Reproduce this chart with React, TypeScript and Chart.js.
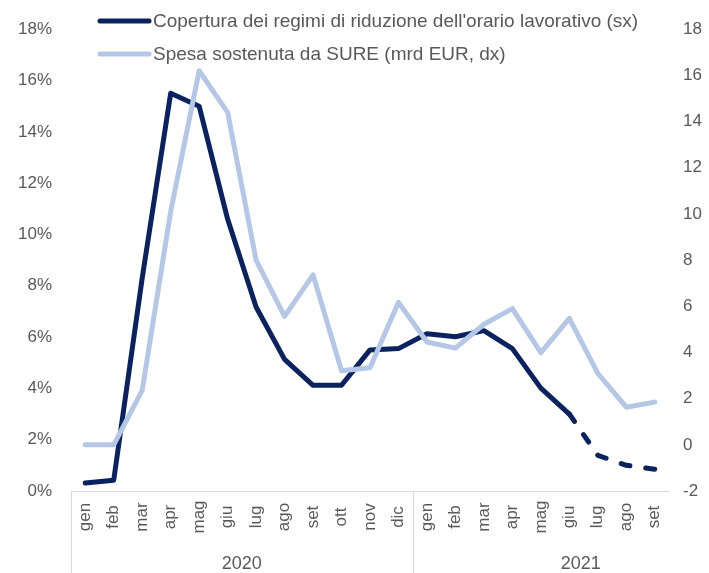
import React, { useEffect, useRef } from "react";
import { Chart, registerables } from "chart.js";

Chart.register(...registerables);

const months2020 = ["gen", "feb", "mar", "apr", "mag", "giu", "lug", "ago", "set", "ott", "nov", "dic"];
const months2021 = ["gen", "feb", "mar", "apr", "mag", "giu", "lug", "ago", "set"];
const categories = [...months2020, ...months2021];
const years = ["2020", "2021"];

const coverageLabel = "Copertura dei regimi di riduzione dell'orario lavorativo (sx)";
const sureLabel = "Spesa sostenuta da SURE (mrd EUR, dx)";

// % of workers covered (left axis)
const coverage = [
  0.31, 0.42, 8.3, 15.5, 15.0, 10.6, 7.17, 5.13, 4.12, 4.12, 5.5, 5.55,
  6.13, 6.01, 6.25, 5.55, 4.01, 3.0, 1.39, 1.0, 0.85,
];
// SURE spending, bn EUR (right axis)
const sureSpending = [
  0, 0, 2.36, 10.1, 16.2, 14.4, 8.0, 5.56, 7.36, 3.21, 3.34, 6.17,
  4.45, 4.19, 5.22, 5.9, 3.99, 5.48, 3.09, 1.63, 1.85,
];
const dashFromIndex = 17;

const leftMin = 0, leftMax = 18, leftStep = 2;
const rightMin = -2, rightMax = 18, rightStep = 2;

const DARK = "#0a2260";
const LIGHT = "#b4c7e7";
const TEXT = "#595959";
const AXIS = "#d9d9d9";
const FONT = "'Liberation Sans', Arial, sans-serif";

export default function App() {
  const ref = useRef<HTMLCanvasElement>(null);

  useEffect(() => {
    const canvas = ref.current!;
    const decorations = {
      id: "decorations",
      afterDraw(chart: any) {
        const ctx = chart.ctx;
        const area = chart.chartArea;
        const xs = chart.scales.x;
        ctx.save();
        // axis lines
        ctx.strokeStyle = AXIS;
        ctx.lineWidth = 1;
        const sepX = (xs.getPixelForValue(11) + xs.getPixelForValue(12)) / 2;
        ctx.beginPath();
        ctx.moveTo(area.left, area.bottom + 0.5);
        ctx.lineTo(area.right, area.bottom + 0.5);
        ctx.moveTo(area.left + 0.5, area.bottom);
        ctx.lineTo(area.left + 0.5, chart.height);
        ctx.moveTo(Math.round(sepX) + 0.5, area.bottom);
        ctx.lineTo(Math.round(sepX) + 0.5, chart.height);
        ctx.stroke();
        // month labels, rotated and centred in their band
        ctx.fillStyle = TEXT;
        ctx.font = `17px ${FONT}`;
        ctx.textAlign = "center";
        ctx.textBaseline = "middle";
        categories.forEach((m, i) => {
          ctx.save();
          ctx.translate(xs.getPixelForValue(i), area.bottom + 26);
          ctx.rotate(-Math.PI / 2);
          ctx.fillText(m, 0, 0);
          ctx.restore();
        });
        // year labels
        ctx.font = `18px ${FONT}`;
        ctx.fillText(years[0], (area.left + sepX) / 2, 564);
        ctx.fillText(years[1], xs.getPixelForValue(17.4), 564);
        // legend
        const items = [
          { label: coverageLabel, color: DARK, y: 21 },
          { label: sureLabel, color: LIGHT, y: 54 },
        ];
        ctx.textAlign = "left";
        ctx.font = `19px ${FONT}`;
        for (const it of items) {
          ctx.strokeStyle = it.color;
          ctx.lineWidth = 5;
          ctx.lineCap = "round";
          ctx.beginPath();
          ctx.moveTo(100, it.y);
          ctx.lineTo(149, it.y);
          ctx.stroke();
          ctx.fillStyle = TEXT;
          ctx.fillText(it.label, 153, it.y + 1);
        }
        ctx.restore();
      },
    };

    const chart = new Chart(canvas, {
      type: "line",
      data: {
        labels: categories,
        datasets: [
          {
            label: sureLabel,
            data: sureSpending,
            yAxisID: "y1",
            borderColor: LIGHT,
            backgroundColor: LIGHT,
            borderWidth: 5,
            pointRadius: 0,
            tension: 0,
            borderJoinStyle: "round",
            borderCapStyle: "round",
          },
          {
            label: coverageLabel,
            data: coverage,
            yAxisID: "y",
            borderColor: DARK,
            backgroundColor: DARK,
            borderWidth: 5,
            pointRadius: 0,
            tension: 0,
            borderJoinStyle: "round",
            borderCapStyle: "round",
            segment: {
              borderDash: (c: any) => (c.p0DataIndex >= dashFromIndex ? [9, 16] : undefined),
            },
          },
        ],
      },
      options: {
        responsive: false,
        animation: false,
        layout: { padding: { top: 24, left: 0, right: 0, bottom: 0 } },
        plugins: { legend: { display: false }, tooltip: { enabled: false } },
        scales: {
          x: {
            offset: true,
            grid: { display: false, drawTicks: false },
            border: { display: false },
            ticks: { display: false, autoSkip: false },
            afterFit: (s: any) => { s.height = 82; },
          },
          y: {
            position: "left",
            min: leftMin,
            max: leftMax,
            grid: { display: false, drawTicks: false },
            border: { display: false },
            ticks: {
              stepSize: leftStep,
              padding: 19,
              color: TEXT,
              font: { family: FONT, size: 17 },
              callback: (v: any) => `${v}%`,
            },
            afterFit: (s: any) => { s.width = 71; },
          },
          y1: {
            position: "right",
            min: rightMin,
            max: rightMax,
            grid: { display: false, drawTicks: false },
            border: { display: false },
            ticks: {
              stepSize: rightStep,
              padding: 14,
              color: TEXT,
              font: { family: FONT, size: 17 },
            },
            afterFit: (s: any) => { s.width = 40; },
          },
        },
      },
      plugins: [decorations],
    });
    return () => chart.destroy();
  }, []);

  return (
    <div style={{ position: "fixed", left: 0, top: 0, width: 709, height: 573, background: "#fff" }}>
      <canvas ref={ref} width={709} height={573} style={{ display: "block" }} />
    </div>
  );
}
